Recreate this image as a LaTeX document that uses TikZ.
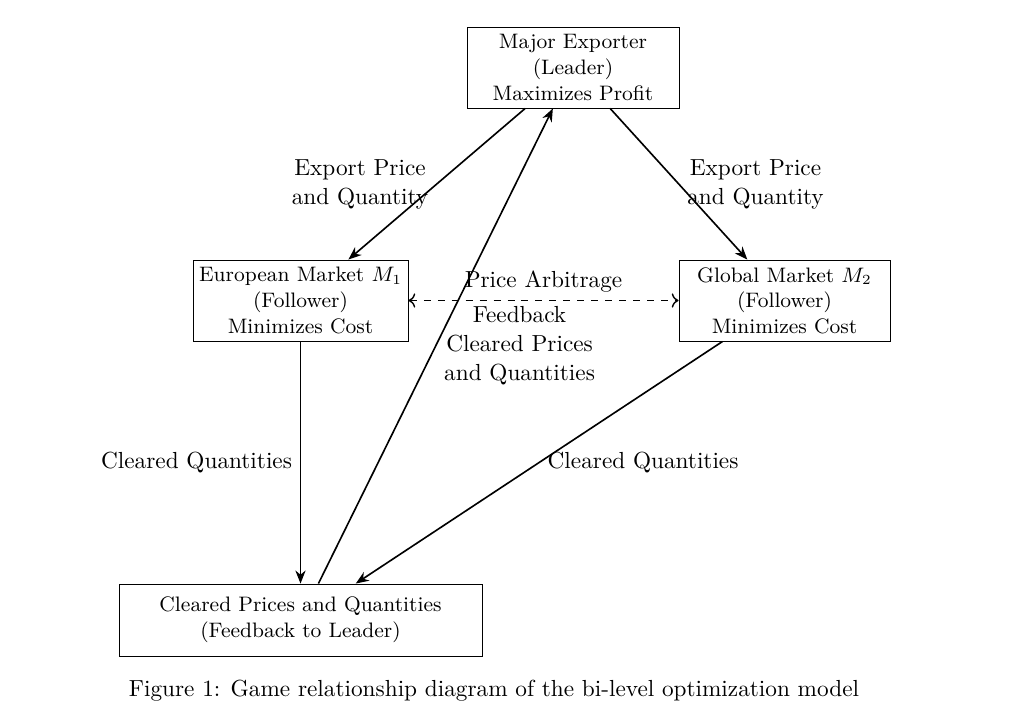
\documentclass[tikz,border=0pt]{standalone}
\usetikzlibrary{arrows.meta}
\begin{document}
\begin{tikzpicture}[x=0.43pt,y=-0.43pt,
  box/.style={draw, align=center, font=\small, inner sep=0pt},
  lab/.style={align=center, font=\fontsize{10}{12.5}\selectfont},
  conn/.style={line width=0.7pt, -{Stealth[length=5.6pt,width=4.4pt,inset=1.8pt]}},
  dconn/.style={line width=0.6pt, dashed, <->}]
\useasboundingbox (0,0) rectangle (1021,720);
\node[box, minimum width=212*0.43pt, minimum height=81*0.43pt] (ex) at (573,67.5) {Major Exporter\\(Leader)\\Maximizes Profit};
\node[box, minimum width=215*0.43pt, minimum height=81*0.43pt] (eu) at (300.5,300.5) {European Market $M_1$\\(Follower)\\Minimizes Cost};
\node[box, minimum width=211*0.43pt, minimum height=81*0.43pt] (gl) at (784.5,300.5) {Global Market $M_2$\\(Follower)\\Minimizes Cost};
\node[box, minimum width=363*0.43pt, minimum height=72*0.43pt] (cl) at (300.5,620) {Cleared Prices and Quantities\\(Feedback to Leader)};
\node[font=\normalsize] (cap) at (494,691) {Figure 1: Game relationship diagram of the bi-level optimization model};
\draw[conn] (ex) -- node[lab, midway, left] {Export Price\\and Quantity} (eu);
\draw[conn] (ex) -- node[lab, midway, right] {Export Price\\and Quantity} (gl);
\draw[dconn] (eu) -- node[lab, midway, above] {Price Arbitrage} (gl);
\draw[conn] (eu) -- node[lab, midway, left] {Cleared Quantities} (cl);
\draw[conn] (gl) -- node[lab, midway, right] {Cleared Quantities} (cl);
\draw[conn] (cl) -- node[lab, midway, right] {Feedback\\Cleared Prices\\and Quantities} (ex);
\end{tikzpicture}
\end{document}
